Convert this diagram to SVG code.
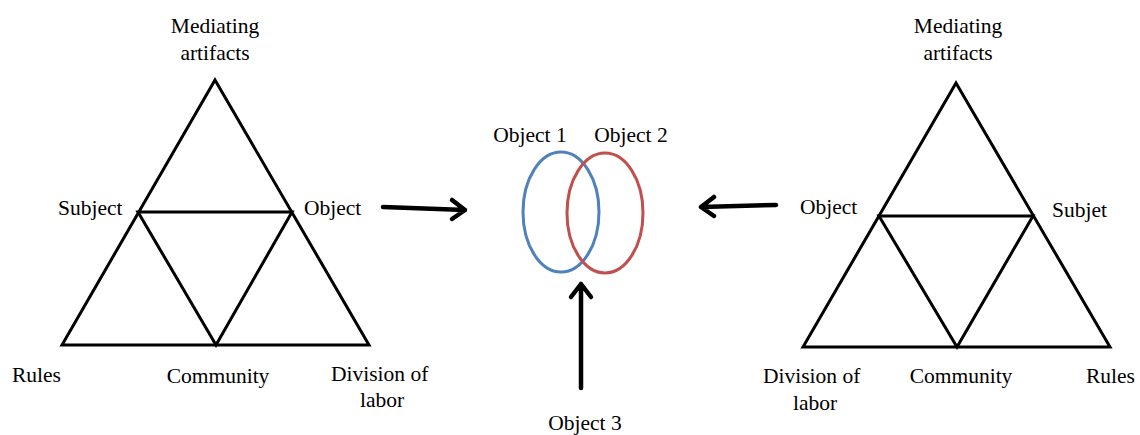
<svg xmlns="http://www.w3.org/2000/svg" width="1140" height="435" viewBox="0 0 1140 435">
<style>
.t{font-family:"Liberation Serif","Times New Roman",serif;font-size:21.5px;fill:#000}
.tri{fill:none;stroke:#000;stroke-width:3;stroke-linejoin:miter}
.arr{fill:none;stroke:#000;stroke-width:4.5;stroke-linecap:round;stroke-linejoin:round}
</style>
<rect width="1140" height="435" fill="#fff"/>
<g id="left-triangle">
<polygon class="tri" points="215,80 62,345 369,345"/>
<polygon class="tri" points="138,212 292,212 216,345"/>
<text class="t" x="215" y="33" text-anchor="middle">Mediating</text>
<text class="t" x="215" y="60" text-anchor="middle">artifacts</text>
<text class="t" x="58" y="215">Subject</text>
<text class="t" x="304" y="215">Object</text>
<text class="t" x="12" y="382">Rules</text>
<text class="t" x="218" y="383" text-anchor="middle">Community</text>
<text class="t" x="331" y="381">Division of</text>
<text class="t" x="382" y="407" text-anchor="middle">labor</text>
</g>
<g id="objects">
<ellipse cx="561" cy="212" rx="38" ry="60" fill="none" stroke="#4F81BD" stroke-width="3"/>
<ellipse cx="605" cy="213" rx="38" ry="60" fill="none" stroke="#C0504D" stroke-width="3"/>
<text class="t" x="530" y="142" text-anchor="middle">Object 1</text>
<text class="t" x="631" y="142" text-anchor="middle">Object 2</text>
<text class="t" x="585" y="430" text-anchor="middle">Object 3</text>
</g>
<g id="right-triangle">
<polygon class="tri" points="956,83 803,347 1110,347"/>
<polygon class="tri" points="879,216 1033,216 957,347"/>
<text class="t" x="958" y="33" text-anchor="middle">Mediating</text>
<text class="t" x="958" y="60" text-anchor="middle">artifacts</text>
<text class="t" x="800" y="214">Object</text>
<text class="t" x="1052" y="217">Subjet</text>
<text class="t" x="763" y="383">Division of</text>
<text class="t" x="815" y="410" text-anchor="middle">labor</text>
<text class="t" x="961" y="383" text-anchor="middle">Community</text>
<text class="t" x="1086" y="383">Rules</text>
</g>
<g id="connectors">
<path class="arr" d="M383,207 L465,210 M452,200 L465,210 L452,219"/>
<path class="arr" d="M776,205 L701,207 M714,197 L701,207 L714,216"/>
<path class="arr" d="M581,388 L581,284 M571,297 L581,284 L591,297"/>
</g>
</svg>
